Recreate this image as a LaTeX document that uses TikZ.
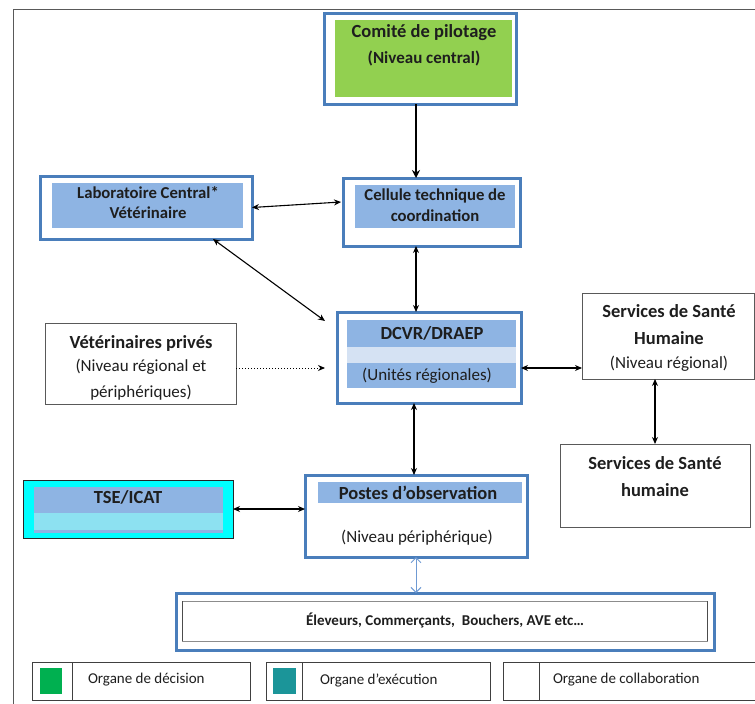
\documentclass[tikz,border=0pt]{standalone}
\usepackage{fontspec}
\setmainfont{Carlito}
\usetikzlibrary{arrows.meta}

\definecolor{boxblue}{HTML}{4A7EBB}
\definecolor{bandblue}{HTML}{8EB4E3}
\definecolor{bandpale}{HTML}{D5E2F3}
\definecolor{pilotgreen}{HTML}{92D050}
\definecolor{tsecyan}{HTML}{00FFFF}
\definecolor{tsepale}{HTML}{8DE1F1}
\definecolor{framegray}{HTML}{595959}
\definecolor{inkgray}{HTML}{1E1E1E}
\definecolor{legendgreen}{HTML}{00B050}
\definecolor{legendteal}{HTML}{1B9599}
\definecolor{linkblue}{HTML}{6F9AD3}

\tikzset{
  every node/.style={inner sep=0pt, outer sep=0pt, text=inkgray},
  bluebox/.style={draw=boxblue, line width=3pt, fill=white, rectangle},
  plainbox/.style={draw=framegray, line width=0.8pt, fill=white, rectangle},
  thinbox/.style={draw=black!85, line width=1pt, rectangle},
  fillband/.style={rectangle, fill=#1},
  titlebold/.style={font=\fontsize{18.5}{22}\selectfont\bfseries},
  midbold/.style={font=\fontsize{16.7}{20}\selectfont\bfseries},
  subtext/.style={font=\fontsize{17}{20}\selectfont},
  smallbold/.style={font=\fontsize{15}{18}\selectfont\bfseries},
  legendtext/.style={font=\fontsize{15}{18}\selectfont, anchor=west},
  link/.style={line width=1.1pt, {Stealth[length=7pt,width=6pt]}-{Stealth[length=7pt,width=6pt]}},
  mainlink/.style={line width=2.4pt, -{Stealth[length=8pt,width=8pt]}},
  dotlink/.style={line width=1pt, dotted, -{Stealth[length=7pt,width=6pt]}},
  softlink/.style={line width=1pt, draw=linkblue, {Straight Barb[length=5pt,width=10pt]}-{Straight Barb[length=5pt,width=10pt]}},
}

\begin{document}
\begin{tikzpicture}[x=1pt, y=-1pt]
\useasboundingbox (0,0) rectangle (755,704);

% page frame
\draw[framegray, line width=0.8pt] (13,704) -- (13,9) -- (755,9);

% Comite de pilotage
\node[bluebox, minimum width=192pt, minimum height=91pt] (comite) at (420,58.5) {};
\node[fillband=pilotgreen, minimum width=177pt, minimum height=77pt] (comitefill) at (423.5,58.5) {};
\node[titlebold] (comiteA) at (424,33) {Comité de pilotage};
\node[font=\fontsize{17}{20}\selectfont\bfseries] (comiteB) at (424,58) {(Niveau central)};

% Cellule technique de coordination
\node[bluebox, minimum width=177pt, minimum height=68pt] (cellule) at (431.5,212) {};
\node[fillband=bandblue, minimum width=160pt, minimum height=43pt] (cellulefill) at (435,206.5) {};
\node[midbold] (celluleA) at (435,196) {Cellule technique de};
\node[midbold] (celluleB) at (435,216) {coordination};

% Laboratoire central veterinaire
\node[bluebox, minimum width=212pt, minimum height=63pt] (labo) at (146,207.5) {};
\node[fillband=bandblue, minimum width=191pt, minimum height=45pt] (labofill) at (147.5,205.5) {};
\node[midbold] (laboA) at (148,193) {Laboratoire Central*};
\node[midbold] (laboB) at (148,213) {Vétérinaire};

% DCVR / DRAEP
\node[bluebox, minimum width=184pt, minimum height=91pt] (dcvr) at (429,357.5) {};
\node[fillband=bandblue, minimum width=169pt, minimum height=27pt] (dcvrtop) at (431.5,333.5) {};
\node[fillband=bandpale, minimum width=169pt, minimum height=16pt] (dcvrmid) at (431.5,355) {};
\node[fillband=bandblue, minimum width=169pt, minimum height=25pt] (dcvrbot) at (431.5,375.5) {};
\node[titlebold] (dcvrA) at (432,333) {DCVR/DRAEP};
\node[subtext] (dcvrB) at (427,376) {(Unités régionales)};

% Veterinaires prives; the last line runs past the box and is cut by it
\node[plainbox, minimum width=191pt, minimum height=81pt] (vet) at (140.5,363.5) {};
\node[titlebold] (vetA) at (141,343) {Vétérinaires privés};
\node[subtext] (vetB) at (141,367) {(Niveau régional et};
\begin{scope}
  \clip (vet.north west) rectangle ([yshift=0.4pt]vet.south east);
  \node[subtext] (vetC) at (141,393) {périphériques)};
\end{scope}

% Services de sante humaine (regional)
\node[plainbox, minimum width=172pt, minimum height=86pt] (ssh) at (668,336) {};
\node[titlebold] (sshA) at (669,311) {Services de Santé};
\node[titlebold] (sshB) at (669,338) {Humaine};
\node[subtext] (sshC) at (669,364) {(Niveau régional)};

% Services de sante humaine
\node[plainbox, minimum width=190pt, minimum height=83pt] (sshb) at (655,485.5) {};
\node[titlebold] (sshbA) at (655,463) {Services de Santé};
\node[titlebold] (sshbB) at (655,490) {humaine};

% TSE / ICAT
\node[thinbox, fill=tsecyan, minimum width=210pt, minimum height=58pt] (tse) at (128,509) {};
\node[fillband=bandblue, minimum width=189pt, minimum height=46pt] (tsefill) at (128.5,510) {};
\node[fillband=tsepale, minimum width=189pt, minimum height=17pt] (tsepalefill) at (128.5,521.5) {};
\node[titlebold] (tseA) at (128,497) {TSE/ICAT};

% Postes d'observation
\node[bluebox, minimum width=222pt, minimum height=82pt] (postes) at (416,516) {};
\node[fillband=bandblue, minimum width=204pt, minimum height=21pt] (postesfill) at (420,492.5) {};
\node[titlebold] (postesA) at (418,493) {Postes d’observation};
\node[subtext] (postesB) at (417,538) {(Niveau périphérique)};

% Eleveurs, commercants...
\node[bluebox, minimum width=538pt, minimum height=57pt] (eleveurs) at (445,621.5) {};
\node[draw=black!45, line width=0.7pt, minimum width=525pt, minimum height=40pt] (eleveursin) at (444.5,621) {};
\draw[black!70, line width=0.9pt] (eleveursin.north west) -- (eleveursin.south west)
  (eleveursin.north east) -- (eleveursin.south east);
\node[smallbold] (eleveursA) at (445,620) {Éleveurs, Commerçants,\ \ Bouchers, AVE etc…};

% connectors
\draw[mainlink] ([xshift=-4pt]comite.south) -- ([xshift=-4pt]comite.south |- cellule.north);
\draw[link] (labo.east) -- ([yshift=10pt, xshift=-2pt]cellule.west);
\draw[link] ([xshift=67pt]labo.south) -- ([xshift=-12pt, yshift=-9pt]dcvr.north west);
\draw[link] ([xshift=-15.5pt]cellule.south) -- ([xshift=-15.5pt]cellule.south |- dcvr.north);
\draw[dotlink] ([yshift=-4.5pt]vet.east) -- ([yshift=-4.5pt, xshift=-12pt]vet.east -| dcvr.west);
\draw[link] ([yshift=-10.5pt]dcvr.east) -- ([yshift=-10.5pt]dcvr.east -| ssh.west);
\draw[link] (sshb.north |- ssh.south) -- (sshb.north);
\draw[link] ([xshift=-15pt]dcvr.south) -- ([xshift=-15pt]dcvr.south |- postes.north);
\draw[link] (tse.east) -- (tse.east -| postes.west);
\draw[softlink] (postes.south) -- (postes.south |- eleveurs.north);

% legend
\node[plainbox, draw=black!75, minimum width=218pt, minimum height=38pt] (legA) at (141,681) {};
\draw[black!75, line width=0.8pt] (72,662) -- (72,700);
\node[fillband=legendgreen, minimum width=22pt, minimum height=26pt] (legAkey) at (51,681) {};
\node[legendtext] (legAtext) at (88,680) {Organe de décision};

\node[plainbox, draw=black!75, minimum width=224pt, minimum height=38pt] (legB) at (378,681) {};
\draw[black!75, line width=0.8pt] (302,662) -- (302,700);
\node[fillband=legendteal, minimum width=23pt, minimum height=26pt] (legBkey) at (284,681) {};
\node[legendtext] (legBtext) at (320,680) {Organe d’exécution};

\node[plainbox, draw=black!75, minimum width=252pt, minimum height=38pt] (legC) at (629,681) {};
\draw[black!75, line width=0.8pt] (539,662) -- (539,700);
\node[legendtext] (legCtext) at (553,680) {Organe de collaboration};
\end{tikzpicture}
\end{document}
